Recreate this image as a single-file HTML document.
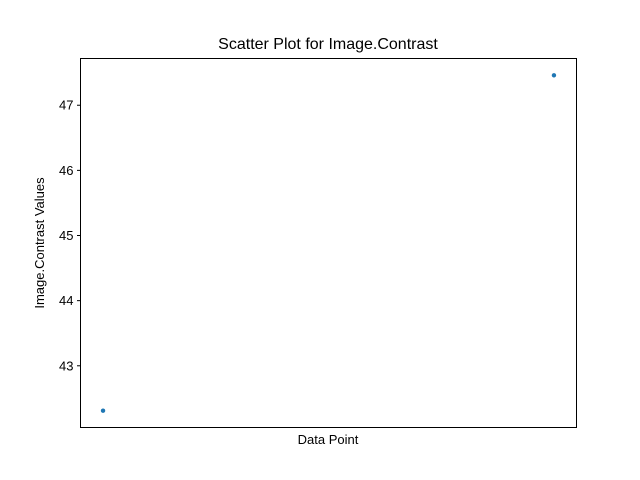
<!DOCTYPE html>
<html><head><meta charset="utf-8"><style>
body{margin:0;background:#fff;}
svg{display:block;font-family:"Liberation Sans","DejaVu Sans",sans-serif;}
</style></head><body>
<svg id="chart" width="640" height="480">
<rect width="640" height="480" fill="#fff"/>
<text x="328" y="49" text-anchor="middle" font-size="16">Scatter Plot for Image.Contrast</text>
<g id="ticks"></g>
<g id="points"></g>
<rect x="80.5" y="58.5" width="496" height="369" fill="none" stroke="#000" stroke-width="1"/>
<text x="328" y="444" text-anchor="middle" font-size="13">Data Point</text>
<text transform="translate(44,243) rotate(-90)" text-anchor="middle" font-size="13">Image.Contrast Values</text>
</svg>
<script>
const indices = [0, 1];
const values = [42.31, 47.46];
const yTicks = [43, 44, 45, 46, 47];

const L = 80.5, R = 576.5, T = 58.5, B = 427.5;
const ymin = Math.min(...values), ymax = Math.max(...values);
const ym = (ymax - ymin) * 0.05;
const y0 = ymin - ym, y1 = ymax + ym;
const xmin = Math.min(...indices), xmax = Math.max(...indices);
const xm = (xmax - xmin) * 0.05;
const x0 = xmin - xm, x1 = xmax + xm;
function sx(v){return L + (v - x0) / (x1 - x0) * (R - L);}
function sy(v){return B - (v - y0) / (y1 - y0) * (B - T);}
const NS = "http://www.w3.org/2000/svg";
const tg = document.getElementById('ticks');
yTicks.forEach(t => {
  const y = sy(t);
  const ln = document.createElementNS(NS, 'line');
  ln.setAttribute('x1', L - 3.5); ln.setAttribute('x2', L);
  ln.setAttribute('y1', y); ln.setAttribute('y2', y);
  ln.setAttribute('stroke', '#000');
  
  
  tg.appendChild(ln);
  const tx = document.createElementNS(NS, 'text');
  tx.setAttribute('x', L - 7); tx.setAttribute('y', y + 4.5);
  tx.setAttribute('text-anchor', 'end'); tx.setAttribute('font-size', '13');
  tx.textContent = t;
  
  
  tg.appendChild(tx);
});
const pg = document.getElementById('points');
values.forEach((v, i) => {
  const c = document.createElementNS(NS, 'circle');
  c.setAttribute('cx', sx(indices[i])); c.setAttribute('cy', sy(v));
  c.setAttribute('r', 2.2); c.setAttribute('fill', '#1f77b4');
  
  
  pg.appendChild(c);
});
</script>
</body></html>
